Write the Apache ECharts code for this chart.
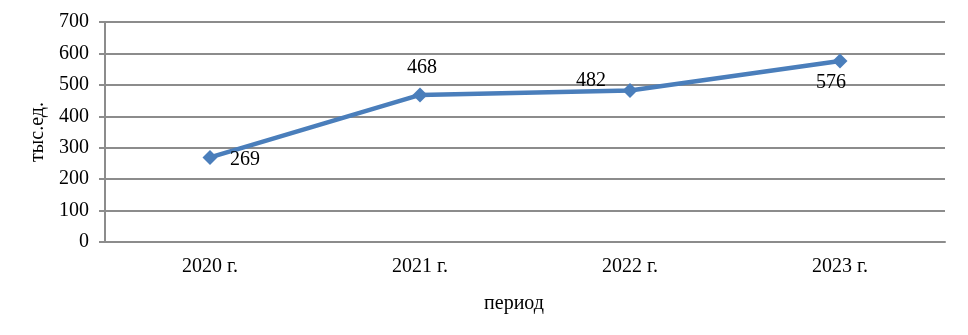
<!DOCTYPE html>
<html>
<head>
<meta charset="utf-8">
<script src="https://cdn.jsdelivr.net/npm/echarts@6/dist/echarts.min.js"></script>
<style>html,body{margin:0;padding:0;background:#fff}#c{width:968px;height:335px}</style>
</head>
<body>
<div id="c"></div>
<script>
const categories = ['2020 г.', '2021 г.', '2022 г.', '2023 г.'];
const values = [269, 468, 482, 576];
const yTicks = [0, 100, 200, 300, 400, 500, 600, 700];
const labelOffsets = [[35, 2], [2, -27], [-39, -10], [-9, 22]];

const font = '"Liberation Serif", "DejaVu Serif", serif';
const chart = echarts.init(document.getElementById('c'), null, {renderer: 'canvas'});
chart.setOption({
  animation: false,
  backgroundColor: '#fff',
  grid: {left: 105, right: 23, top: 22, bottom: 93, containLabel: false},
  xAxis: {
    type: 'category',
    data: categories,
    boundaryGap: true,
    name: 'период',
    nameLocation: 'middle',
    nameGap: 52,
    nameTextStyle: {fontFamily: font, fontSize: 20, color: '#000', padding: [0, 22, 0, 0]},
    axisLine: {lineStyle: {color: '#8c8c8c', width: 2}},
    axisTick: {show: false},
    axisLabel: {fontFamily: font, fontSize: 20, color: '#000', margin: 15}
  },
  yAxis: {
    type: 'value',
    min: yTicks[0],
    max: yTicks[yTicks.length - 1],
    interval: 100,
    name: 'тыс.ед.',
    nameLocation: 'middle',
    nameGap: 52,
    nameTextStyle: {fontFamily: font, fontSize: 20, color: '#000'},
    axisLine: {show: true, lineStyle: {color: '#8c8c8c', width: 2}},
    axisTick: {show: true, length: 6, lineStyle: {color: '#8c8c8c', width: 2}},
    axisLabel: {fontFamily: font, fontSize: 20, color: '#000', margin: 16},
    splitLine: {lineStyle: {color: '#8c8c8c', width: 2}}
  },
  series: [{
    type: 'line',
    data: values.map((v, i) => ({
      value: v,
      label: {offset: labelOffsets[i]}
    })),
    symbol: 'diamond',
    symbolSize: 15,
    itemStyle: {color: '#4a7ebb'},
    lineStyle: {color: '#4a7ebb', width: 4.5},
    label: {show: true, position: 'inside', fontFamily: font, fontSize: 20, color: '#000'}
  }]
});
</script>
</body>
</html>
